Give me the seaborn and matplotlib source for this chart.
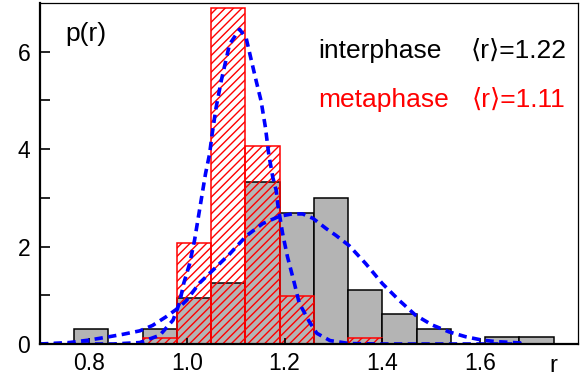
import numpy as np
import matplotlib
matplotlib.use("Agg")
import matplotlib.pyplot as plt
import seaborn as sns

# ---- data ----
bin_edges = [0.77, 0.84, 0.91, 0.98, 1.05, 1.12, 1.19, 1.26, 1.33, 1.40, 1.47, 1.54, 1.61, 1.68, 1.75]
interphase_p = [0.31, 0.0, 0.31, 0.94, 1.26, 3.32, 2.69, 3.00, 1.10, 0.62, 0.31, 0.0, 0.15, 0.15]
metaphase_p = [0.0, 0.0, 0.12, 2.08, 6.89, 4.06, 0.98, 0.0, 0.12, 0.0, 0.0, 0.0, 0.0, 0.0]

inter_fit_r = [0.70, 0.76, 0.80, 0.836, 0.87, 0.904, 0.93, 0.958, 0.9855, 1.0, 1.026, 1.053, 1.088,
               1.122, 1.155, 1.189, 1.215, 1.237, 1.258, 1.285, 1.305, 1.332, 1.366, 1.400, 1.434,
               1.468, 1.502, 1.536, 1.570, 1.604, 1.631, 1.685]
inter_fit_p = [0.0, 0.03, 0.08, 0.14, 0.20, 0.27, 0.38, 0.56, 0.76, 0.90, 1.25, 1.51, 1.85,
               2.22, 2.47, 2.62, 2.67, 2.67, 2.58, 2.37, 2.23, 2.02, 1.65, 1.24, 0.90,
               0.59, 0.39, 0.25, 0.15, 0.08, 0.05, 0.02]

meta_fit_r = [0.70, 0.85, 0.904, 0.945, 0.972, 0.9855, 0.994, 1.006, 1.016, 1.026, 1.0385, 1.0467,
              1.052, 1.060, 1.0705, 1.0875, 1.108, 1.1215, 1.1317, 1.142, 1.152, 1.161, 1.1676,
              1.176, 1.183, 1.186, 1.196, 1.206, 1.220, 1.230, 1.2505, 1.266, 1.293, 1.332, 1.40, 1.685]
meta_fit_p = [0.0, 0.0, 0.03, 0.18, 0.49, 0.85, 1.25, 1.65, 2.13, 2.74, 3.50, 3.90,
              4.31, 4.85, 5.40, 6.15, 6.46, 6.28, 5.84, 5.40, 4.99, 4.44, 3.90,
              3.42, 3.15, 2.88, 2.27, 1.79, 1.25, 0.84, 0.46, 0.22, 0.07, 0.01, 0.0, 0.0]

x_ticks = [0.8, 1.0, 1.2, 1.4, 1.6]
x_ticklabels = ["0.8", "1.0", "1.2", "1.4", "1.6"]
y_ticks = [0, 2, 4, 6]
y_minor = [1, 3, 5]
labels = ["interphase", "metaphase"]
means = ["\u27e8r\u27e9=1.22", "\u27e8r\u27e9=1.11"]

# ---- styling ----
plt.rcParams["font.family"] = ["Liberation Sans", "DejaVu Sans"]
plt.rcParams["hatch.linewidth"] = 1.0
plt.rcParams["hatch.color"] = "red"

W, H = 586, 379
fig = plt.figure(figsize=(W / 100, H / 100), dpi=100)
ax = fig.add_axes([40 / W, 35 / H, 538 / W, 341 / H])

edges = np.array(bin_edges)
centers = (edges[:-1] + edges[1:]) / 2

sns.histplot(x=centers, weights=interphase_p, bins=bin_edges, color="#b4b4b4",
             edgecolor="black", linewidth=1.1, alpha=1, ax=ax)
sns.histplot(x=centers, weights=metaphase_p, bins=bin_edges, fill=False, color="red",
             hatch="////", linewidth=1.1, ax=ax)
for p in ax.patches:
    if p.get_height() == 0:
        p.set_visible(False)

sns.lineplot(x=inter_fit_r, y=inter_fit_p, color="blue", lw=2.6, dashes=False, ax=ax)
sns.lineplot(x=meta_fit_r, y=meta_fit_p, color="blue", lw=2.6, dashes=False, ax=ax)
for ln in ax.lines:
    ln.set_dashes((2.3, 1.5))

ax.set_xlim(0.70, 1.80)
ax.set_ylim(0, 7)
ax.set_xlabel("")
ax.set_ylabel("")
ax.set_xticks(x_ticks)
ax.set_xticklabels(x_ticklabels, fontsize=16.5)
ax.set_yticks(y_ticks)
ax.set_yticklabels([str(v) for v in y_ticks], fontsize=16.5)
ax.set_yticks(y_minor, minor=True)
ax.tick_params(axis="x", which="major", direction="in", length=4, width=1.2, pad=6)
ax.tick_params(axis="y", which="major", direction="in", length=7, width=1.2, pad=7)
ax.tick_params(axis="y", which="minor", direction="in", length=7, width=1.2)
for side in ["left", "bottom"]:
    ax.spines[side].set_linewidth(1.6)
for side in ["top", "right"]:
    ax.spines[side].set_linewidth(0.9)

# ---- texts ----
fig.text(65 / W, 1 - 41 / H, "p(r)", fontsize=19, ha="left", va="baseline")
fig.text(318 / W, 1 - 58 / H, labels[0], fontsize=19, color="black", ha="left", va="baseline")
fig.text(567 / W, 1 - 58 / H, means[0], fontsize=19, color="black", ha="right", va="baseline")
fig.text(318 / W, 1 - 107 / H, labels[1], fontsize=19, color="red", ha="left", va="baseline")
fig.text(565 / W, 1 - 107 / H, means[1], fontsize=19, color="red", ha="right", va="baseline")
fig.text(553 / W, 1 - 372 / H, "r", fontsize=17, ha="center", va="baseline")

fig.savefig("out.png", dpi=100)
